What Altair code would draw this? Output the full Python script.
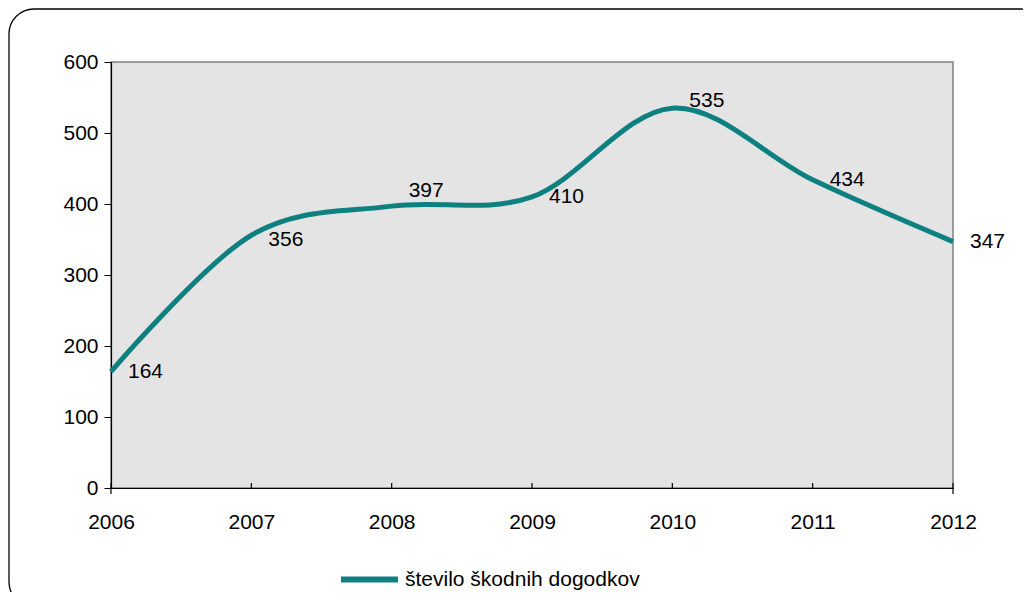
import altair as alt
import pandas as pd

years = [2006, 2007, 2008, 2009, 2010, 2011, 2012]
values = [164, 356, 397, 410, 535, 434, 347]
series_name = "število škodnih dogodkov"
y_ticks = [0, 100, 200, 300, 400, 500, 600]

LINE_COLOR = "#0f8080"
FONT = "Liberation Sans"
FS = 21

df = pd.DataFrame({"year": years, "value": values, "series": [series_name] * len(years)})

x_scale = alt.Scale(domain=[2006, 2012], nice=False, zero=False)
y_scale = alt.Scale(domain=[0, 600], nice=False)

x_axis = alt.Axis(values=years, format="d", title=None, ticks=False, labelFlush=False,
                  labelPadding=23, labelFontSize=FS, labelColor="black",
                  domainColor="black", domainWidth=1.2, grid=False, labelFont=FONT)
y_axis = alt.Axis(values=y_ticks, title=None, tickSize=7, tickColor="black",
                  labelPadding=6, labelFontSize=FS, labelColor="black",
                  domainColor="black", domainWidth=1.2, grid=False, labelFont=FONT)

base = alt.Chart(df)

line = base.mark_line(interpolate="cardinal", strokeWidth=5).encode(
    x=alt.X("year:Q", scale=x_scale, axis=x_axis),
    y=alt.Y("value:Q", scale=y_scale, axis=y_axis),
    color=alt.Color("series:N",
                    scale=alt.Scale(domain=[series_name], range=[LINE_COLOR]),
                    legend=alt.Legend(orient="none", legendX=227, legendY=486, title=None,
                                      symbolType="stroke", symbolSize=3249, symbolStrokeWidth=6,
                                      labelFontSize=FS, labelOffset=4, padding=0, labelLimit=0,
                                      labelFont=FONT, labelColor="black")),
)

def labels(sel, dy):
    return base.transform_filter(alt.FieldOneOfPredicate(field="year", oneOf=sel)).mark_text(
        align="left", baseline="middle", dx=17, dy=dy, fontSize=FS, font=FONT, color="black"
    ).encode(x=alt.X("year:Q", scale=x_scale), y=alt.Y("value:Q", scale=y_scale), text="value:Q")

lab_a = labels([2006, 2009, 2011, 2012], 0)
lab_b = labels([2007], 5)
lab_c = labels([2008], -15)
lab_d = labels([2010], -7)

inner_ticks = base.mark_rule(color="black", strokeWidth=1.2).encode(
    x=alt.X("year:Q", scale=x_scale), y=alt.value(426), y2=alt.value(421)
)
end_ticks = base.transform_filter(alt.FieldOneOfPredicate(field="year", oneOf=[2006, 2012])).mark_rule(
    color="black", strokeWidth=1.2).encode(x=alt.X("year:Q", scale=x_scale), y=alt.value(426), y2=alt.value(432))

border = alt.Chart(pd.DataFrame({"a": [0]})).mark_rect(
    fill="transparent", stroke="black", strokeWidth=1.3, cornerRadius=25
).encode(x=alt.value(-102), x2=alt.value(935), y=alt.value(-53), y2=alt.value(545))

chart = alt.layer(line, inner_ticks, end_ticks, lab_a, lab_b, lab_c, lab_d, border).properties(
    width=842, height=426,
    autosize=alt.AutoSizeParams(type="none"),
    padding={"left": 103, "top": 54, "right": 70, "bottom": 104},
).configure_view(stroke="#808080", strokeWidth=1.5, fill="#e4e4e4")

chart.save("out.html", embed_options={"renderer": "svg", "actions": False})
